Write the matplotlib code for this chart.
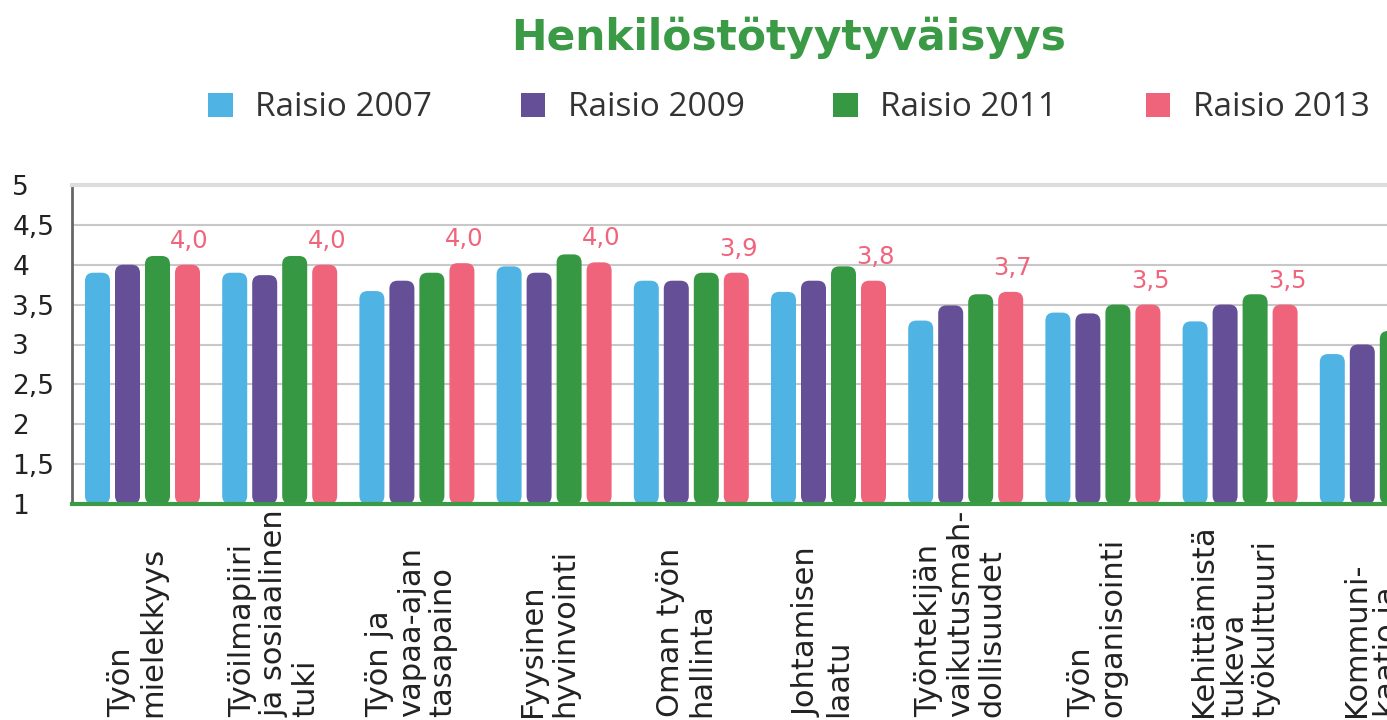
import numpy as np
import matplotlib
matplotlib.use('Agg')
import matplotlib.pyplot as plt
from matplotlib.patches import FancyBboxPatch, Patch
from matplotlib.transforms import blended_transform_factory

categories = [
    'Työn\nmielekkyys',
    'Työilmapiiri\nja sosiaalinen\ntuki',
    'Työn ja\nvapaa-ajan\ntasapaino',
    'Fyysinen\nhyvinvointi',
    'Oman työn\nhallinta',
    'Johtamisen\nlaatu',
    'Työntekijän\nvaikutusmah-\ndollisuudet',
    'Työn\norganisointi',
    'Kehittämistä\ntukeva\ntyökulttuuri',
    'Kommuni-\nkaatio ja',
]
series_names = ['Raisio 2007', 'Raisio 2009', 'Raisio 2011', 'Raisio 2013']
raisio_2007 = [3.90, 3.90, 3.67, 3.98, 3.80, 3.66, 3.30, 3.40, 3.29, 2.88]
raisio_2009 = [4.00, 3.87, 3.80, 3.90, 3.80, 3.80, 3.49, 3.39, 3.50, 3.00]
raisio_2011 = [4.11, 4.11, 3.90, 4.13, 3.90, 3.98, 3.63, 3.50, 3.63, 3.17]
raisio_2013 = [4.00, 4.00, 4.02, 4.03, 3.90, 3.80, 3.66, 3.50, 3.50, 3.20]
yticks = [1, 1.5, 2, 2.5, 3, 3.5, 4, 4.5, 5]

colors = ['#4fb3e4', '#654f96', '#379843', '#ef647b']
all_series = [raisio_2007, raisio_2009, raisio_2011, raisio_2013]

W, H = 1387, 720
fig = plt.figure(figsize=(W / 100, H / 100), dpi=100)
ax = fig.add_axes([72 / W, 1 - 504 / H, 1 - 72 / W, (504 - 185) / H])

px_x = 137.2  # pixels per group
step = 30 / px_x
width = 25 / px_x
x = np.arange(len(categories))
aspect = (1 / 80) / (1 / px_x)

for i, (vals, c) in enumerate(zip(all_series, colors)):
    bars = ax.bar(x + (i - 1.5) * step, np.array(vals) - 1, width, bottom=1, color=c)
    for r in bars:
        r.set_visible(False)
        ax.add_patch(FancyBboxPatch((r.get_x(), r.get_y()), r.get_width(), r.get_height(),
                                    boxstyle='round,pad=0,rounding_size=0.06',
                                    mutation_aspect=aspect, fc=c, ec='none', zorder=2))

# value labels for latest year
for xi, v in zip(x, raisio_2013):
    ax.text(xi + 1.5 * step + 0.015, v + 0.3, f'{v:.1f}'.replace('.', ','),
            ha='center', va='center', fontsize=17.5, color='#f0647c', zorder=3)

ax.set_xlim((72 - 142.5) / px_x, (W - 142.5) / px_x)
ax.set_ylim(1, 5)
ax.set_yticks(yticks)
ax.set_yticklabels([f'{t:g}'.replace('.', ',') for t in yticks])
ax.tick_params(axis='y', length=0, pad=43, labelsize=19, labelcolor='#222222')
for lab in ax.get_yticklabels():
    lab.set_horizontalalignment('left')
ax.set_xticks([])

ax.set_axisbelow(True)
ax.grid(axis='y', color='#c8c8c8', linewidth=1.5)
ax.spines['right'].set_visible(False)
ax.spines['top'].set_color('#dddddd')
ax.spines['top'].set_linewidth(3)
ax.spines['left'].set_color('#666666')
ax.spines['left'].set_linewidth(2)
ax.spines['bottom'].set_color('#3a9a45')
ax.spines['bottom'].set_linewidth(3)

label_tr = blended_transform_factory(ax.transData, fig.transFigure)
for xi, name in zip(x, categories):
    ax.text(xi - 0.04, 0.004, name, transform=label_tr,
            rotation=90, ha='center', va='bottom', multialignment='left',
            fontsize=22, color='#222222', linespacing=1.1, family='DejaVu Sans')

fig.text(789 / W, 1 - 50 / H, 'Henkilöstötyytyväisyys', ha='center', va='baseline',
         fontsize=30.5, fontweight='bold', color='#3a9a45', family='DejaVu Sans')

handles = [Patch(facecolor=c, edgecolor='none') for c in colors]
fig.legend(handles, series_names, loc='center', bbox_to_anchor=(789 / W, 1 - 108 / H),
           ncol=4, frameon=False, prop={'family': 'Open Sans', 'size': 24},
           handlelength=0.73, handleheight=0.73, handletextpad=0.67,
           columnspacing=2.67, labelcolor='#333333')

fig.savefig('out.png', dpi=100)
